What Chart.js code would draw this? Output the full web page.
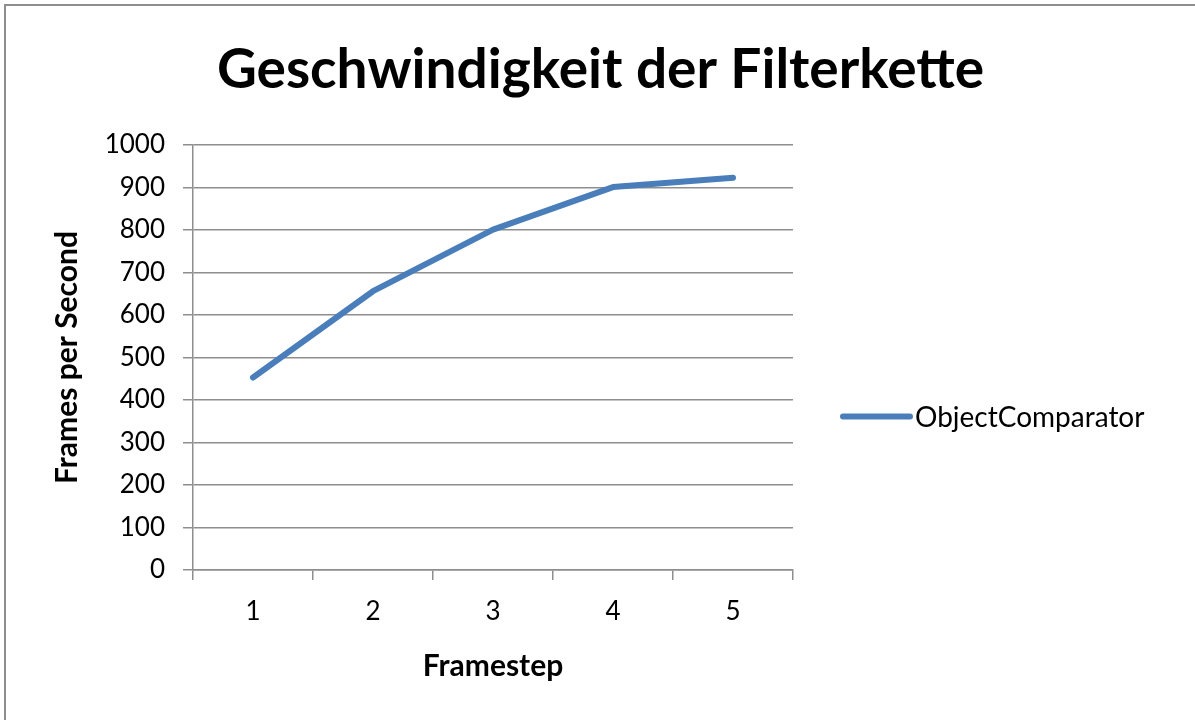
<!DOCTYPE html>
<html>
<head>
<meta charset="utf-8">
<title>Geschwindigkeit der Filterkette</title>
<script src="https://cdn.jsdelivr.net/npm/chart.js@4.4.1/dist/chart.umd.min.js"></script>
<style>
  html, body { margin: 0; padding: 0; background: #fff; }
  #wrap { position: relative; width: 1195px; height: 720px; overflow: hidden; }
  #frame { position: absolute; left: 4px; top: 4px; right: -10px; bottom: -10px;
           border-left: 2px solid #8e8e8e; border-top: 2px solid #8e8e8e; pointer-events: none; }
</style>
</head>
<body>
<div id="wrap">
  <canvas id="chart" width="1195" height="720"></canvas>
  <div id="frame"></div>
</div>
<script>
const framesteps = ['1', '2', '3', '4', '5'];
const fps = [453, 656, 801, 901, 923];
const yTicks = [0, 100, 200, 300, 400, 500, 600, 700, 800, 900, 1000];

const FONT = 'Lato, "Open Sans", sans-serif';
const GRID = '#8e8e8e';
const LINE = '#4a7ebb';

// legend at the right of the plot: short thick line + series name
const sideLegend = {
  id: 'sideLegend',
  afterDraw(chart) {
    const { ctx, chartArea } = chart;
    const ds = chart.data.datasets[0];
    const x = chartArea.right + 50;
    const y = (chartArea.top + chartArea.bottom) / 2 + 59;
    ctx.save();
    ctx.strokeStyle = ds.borderColor;
    ctx.lineWidth = 6;
    ctx.lineCap = 'round';
    ctx.beginPath();
    ctx.moveTo(x, y);
    ctx.lineTo(x + 67, y);
    ctx.stroke();
    ctx.fillStyle = '#000';
    ctx.font = '28px ' + FONT;
    ctx.textBaseline = 'middle';
    ctx.fillText(ds.label, x + 72, y + 1);
    ctx.restore();
  }
};

new Chart(document.getElementById('chart'), {
  type: 'line',
  data: {
    labels: framesteps,
    datasets: [{
      label: 'ObjectComparator',
      data: fps,
      borderColor: LINE,
      backgroundColor: LINE,
      borderWidth: 6,
      borderCapStyle: 'round',
      borderJoinStyle: 'round',
      pointRadius: 0,
      tension: 0,
    }],
  },
  options: {
    responsive: false,
    animation: false,
    layout: { padding: { left: 6, right: 0, top: 0, bottom: 0 } },
    plugins: {
      legend: { display: false },
      tooltip: { enabled: false },
      title: {
        display: true,
        text: 'Geschwindigkeit der Filterkette',
        color: '#000',
        font: { family: FONT, size: 55, weight: 'bold' },
        padding: { top: 37, bottom: 42 },
      },
    },
    scales: {
      x: {
        offset: true,
        afterFit: (s) => { s.height = 150; },
        grid: { offset: true, drawOnChartArea: false, color: GRID, lineWidth: 1.5, tickLength: 10 },
        border: { color: GRID, width: 1.5 },
        ticks: { color: '#000', padding: 16, font: { family: FONT, size: 26 } },
        title: {
          display: true, text: 'Framestep', color: '#000',
          font: { family: FONT, size: 30, weight: 'bold' },
          padding: { top: 0, bottom: 36 },
        },
      },
      y: {
        min: 0,
        max: 1000,
        afterFit: (s) => { s.width = 187; },
        afterBuildTicks: (s) => { s.ticks = yTicks.map((v) => ({ value: v })); },
        grid: { color: GRID, lineWidth: 1.5, tickLength: 10 },
        border: { color: GRID, width: 1.5 },
        ticks: { color: '#000', padding: 18, font: { family: FONT, size: 26 }, callback: (v) => String(v) },
        title: {
          display: true, text: 'Frames per Second', color: '#000',
          font: { family: FONT, size: 30, weight: 'bold' },
          padding: { top: 43, bottom: 0 },
        },
      },
      // empty right-hand axis that reserves room for the legend
      legendSpace: {
        type: 'linear',
        position: 'right',
        min: 0,
        max: 1,
        afterFit: (s) => { s.width = 402; },
        grid: { display: false },
        border: { display: false },
        ticks: { display: false },
      },
    },
  },
  plugins: [sideLegend],
});
</script>
</body>
</html>
